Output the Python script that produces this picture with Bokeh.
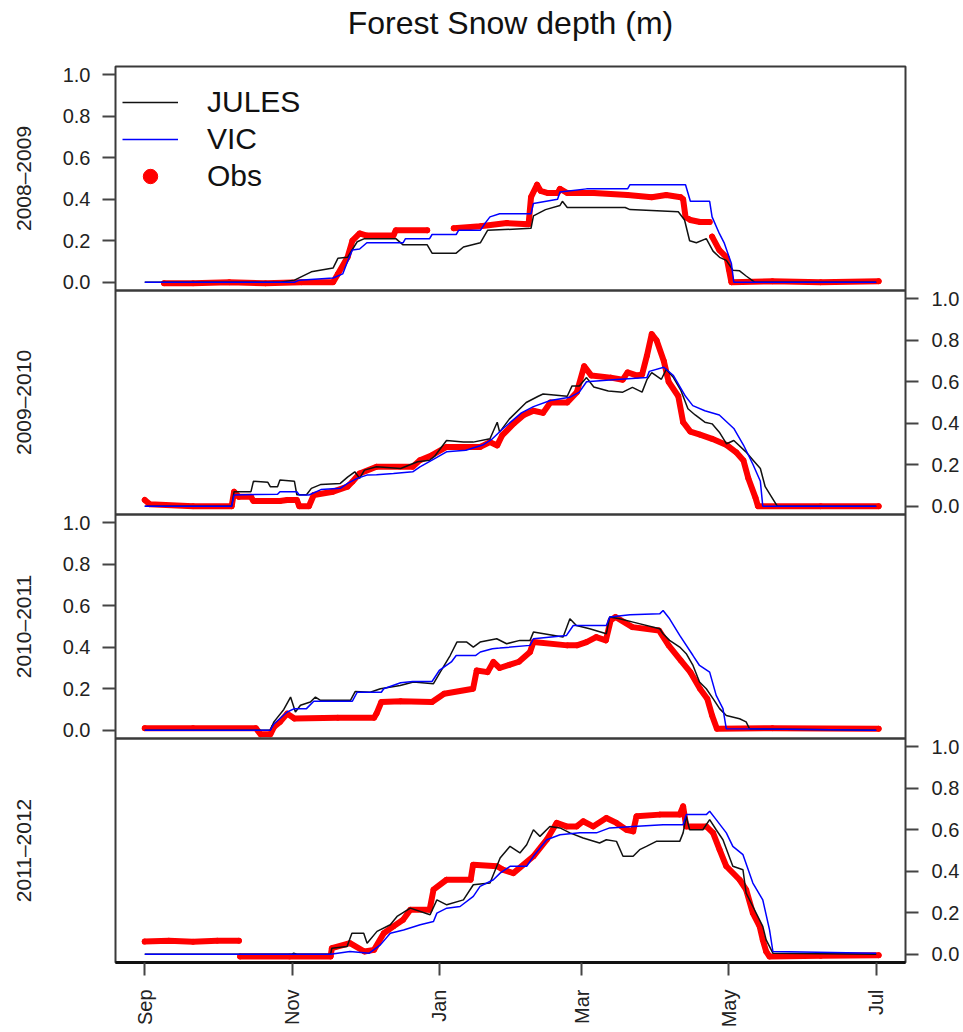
import math
import json
import numpy as np
from bokeh.plotting import figure
from bokeh.models import (LinearAxis, FixedTicker, Range1d, Legend, LegendItem,
                          CustomJSTickFormatter, ColumnDataSource, Span)
from bokeh.embed import file_html
from bokeh.resources import INLINE

NaN = float("nan")

# ---------------- data (days since 1 Sep, snow depth in m) ----------------
title_text = "Forest Snow depth (m)"
season_labels = ["2008\u20132009", "2009\u20132010", "2010\u20132011", "2011\u20132012"]
month_ticks = [0, 61, 122, 181, 242, 303]
month_labels = ["Sep", "Nov", "Jan", "Mar", "May", "Jul"]
depth_ticks = [0.0, 0.2, 0.4, 0.6, 0.8, 1.0]

# 2008-2009
jules_0809_day = [0, 56, 62, 69, 78, 80, 84, 88, 91, 104, 107, 117, 119, 129, 132, 139, 142, 160, 161, 166,
                  172, 173, 175, 199, 201, 221, 223.6, 225.7, 228.5, 232.6, 235.4, 238.1, 240.9, 243.6, 246.4, 249.1, 252.6, 303]
jules_0809_depth = [0, 0, 0.01, 0.05, 0.068, 0.115, 0.12, 0.195, 0.21, 0.21, 0.18, 0.18, 0.14, 0.14, 0.17, 0.19, 0.25, 0.26, 0.32, 0.35,
                    0.37, 0.39, 0.36, 0.36, 0.35, 0.34, 0.30, 0.20, 0.19, 0.21, 0.15, 0.12, 0.105, 0.058, 0.055, 0.03, 0.0, 0.0]
vic_0809_day = [0, 62, 64, 78, 82, 84, 86, 89, 92, 107, 108, 118, 119, 129, 130, 139, 141, 143, 147, 160,
                161, 171, 172, 183, 200, 201, 224, 226, 234, 235, 238, 240, 243, 244, 303]
vic_0809_depth = [0, 0, 0.01, 0.02, 0.04, 0.10, 0.155, 0.16, 0.19, 0.19, 0.21, 0.21, 0.23, 0.23, 0.25, 0.25, 0.285, 0.315, 0.33, 0.33,
                  0.38, 0.40, 0.435, 0.45, 0.45, 0.47, 0.47, 0.39, 0.39, 0.315, 0.235, 0.19, 0.09, 0.0, 0.0]
obs_0809_day = [8, 20, 35, 50, 65, 78, 80, 84, 86, 89, 92, 103, 104, 117, NaN, 128, 139, 150, 159, 160,
                162.5, 164, 167, 171, 172, 175, 186, 200, 210, 216, 222, 223, 224, 226, 230, 234, NaN, 235, 238, 241,
                242, 243, 260, 280, 304]
obs_0809_depth = [-0.005, -0.005, 0.0, -0.005, 0.0, 0.0, 0.04, 0.12, 0.20, 0.235, 0.225, 0.225, 0.25, 0.25, NaN, 0.26, 0.27, 0.285, 0.28, 0.41,
                  0.47, 0.44, 0.43, 0.43, 0.45, 0.43, 0.43, 0.42, 0.41, 0.42, 0.41, 0.40, 0.315, 0.30, 0.29, 0.29, NaN, 0.22, 0.155, 0.12,
                  0.06, 0.0, 0.005, 0.0, 0.005]

# 2009-2010
jules_0910_day = [0, 36, 37, 44, 45, 51, 52, 55, 56, 62, 63, 67, 69, 73, 81, 84, 87, 89, 91, 96,
                  106, 113, 118, 120, 125, 132, 136, 143, 146, 147, 151, 158, 163, 165, 175, 177, 180, 183, 186, 192,
                  198, 202, 206, 208, 210, 214, 216, 219, 222, 225, 228, 232, 235, 238, 241, 244, 249, 252, 255, 257,
                  260, 262, 303]
jules_0910_depth = [0, 0, 0.07, 0.07, 0.12, 0.115, 0.094, 0.094, 0.126, 0.12, 0.055, 0.055, 0.086, 0.105, 0.11, 0.14, 0.166, 0.134, 0.174, 0.19,
                    0.182, 0.214, 0.222, 0.24, 0.317, 0.309, 0.309, 0.325, 0.405, 0.357, 0.42, 0.50, 0.53, 0.541, 0.53, 0.58, 0.58, 0.62, 0.575, 0.555,
                    0.55, 0.573, 0.55, 0.61, 0.644, 0.612, 0.66, 0.62, 0.56, 0.47, 0.44, 0.405, 0.397, 0.357, 0.301, 0.317, 0.262, 0.222, 0.182, 0.094,
                    0.038, 0.0, 0.0]
vic_0910_day = [0, 36, 37, 55, 56, 63, 64, 68, 73, 81, 84, 88, 92, 96, 103, 111, 114, 119, 125, 133,
                140, 144, 148, 153, 156, 161, 168, 176, 180, 183, 194, 208, 209, 215, 219, 224, 227, 232, 238, 244,
                248, 252, 255, 256, 303]
vic_0910_depth = [0, 0, 0.054, 0.058, 0.07, 0.07, 0.054, 0.054, 0.08, 0.086, 0.11, 0.134, 0.15, 0.152, 0.158, 0.166, 0.19, 0.222, 0.262, 0.27,
                  0.295, 0.325, 0.37, 0.42, 0.45, 0.48, 0.51, 0.525, 0.55, 0.60, 0.61, 0.62, 0.65, 0.67, 0.63, 0.53, 0.485, 0.46, 0.44, 0.375,
                  0.295, 0.20, 0.12, 0.0, 0.0]
obs_0910_day = [0, 2, 20, 36, 37, 39, 44, 45, 56, 59, 63, 64, 68, 70, 78, 84, 86, 89, 96, 111,
                114, 119, 125, 139, 143, 146, 148, 153, 157, 161, 165, 168, 175, 179, 182, 185, 193, 198, 200, 204,
                206, 208, 210, 212, 215, 217, 221, 223, 226, 230, 235, 241, 245, 248, 250, 253, 254, 280, 304]
obs_0910_depth = [0.03, 0.01, 0.0, 0.0, 0.07, 0.045, 0.045, 0.025, 0.025, 0.03, 0.03, 0.0, 0.0, 0.054, 0.07, 0.094, 0.118, 0.158, 0.19, 0.19,
                  0.222, 0.246, 0.286, 0.286, 0.309, 0.293, 0.341, 0.40, 0.44, 0.46, 0.45, 0.50, 0.50, 0.55, 0.675, 0.63, 0.62, 0.61, 0.645, 0.63,
                  0.635, 0.725, 0.83, 0.80, 0.70, 0.60, 0.53, 0.405, 0.36, 0.345, 0.325, 0.295, 0.26, 0.22, 0.135, 0.04, 0.0, 0.0, 0.0]

# 2010-2011
jules_1011_day = [0, 52, 53.5, 57.6, 60.4, 62.4, 64.5, 68.6, 70.7, 72.8, 85.2, 87.2, 93.4, 97.6, 105.8, 111.3, 119.6, 122.4, 126.5, 129.3,
                  133.4, 136.1, 138.9, 145.8, 149.9, 155.4, 159.6, 161, 173.3, 176.1, 178.8, 184.3, 191.2, 192.6, 196.7, 202.3, 213.3, 214.7, 217.4, 221.6,
                  224.3, 227.1, 229.8, 232.6, 235.4, 238.1, 240.9, 246.4, 249.1, 250.5, 303]
jules_1011_depth = [0, 0, 0.04, 0.10, 0.16, 0.088, 0.12, 0.136, 0.16, 0.144, 0.144, 0.187, 0.183, 0.2, 0.216, 0.232, 0.224, 0.28, 0.36, 0.425,
                    0.425, 0.401, 0.425, 0.441, 0.417, 0.433, 0.433, 0.473, 0.449, 0.537, 0.505, 0.489, 0.465, 0.546, 0.537, 0.521, 0.489, 0.465, 0.433, 0.401,
                    0.369, 0.312, 0.232, 0.2, 0.152, 0.104, 0.071, 0.055, 0.04, 0.007, 0.0]
vic_1011_day = [0, 52, 53.5, 59, 62, 67, 70, 86, 88, 98, 99, 106, 111, 119, 122, 127, 129, 137, 139, 144,
                147, 159.6, 161, 174.7, 177.5, 191.2, 192.6, 201, 213.3, 214.7, 217.4, 221.6, 227.1, 229.8, 234, 236.7, 239.5, 240.9, 303]
vic_1011_depth = [0, 0, 0.03, 0.088, 0.104, 0.104, 0.14, 0.14, 0.183, 0.183, 0.2, 0.229, 0.235, 0.235, 0.288, 0.329, 0.36, 0.36, 0.377, 0.393,
                  0.396, 0.409, 0.441, 0.457, 0.505, 0.505, 0.546, 0.557, 0.561, 0.577, 0.537, 0.457, 0.36, 0.312, 0.28, 0.168, 0.104, 0.007, 0.0]
obs_1011_day = [0, 20, 46, 48, 52, 53.5, 56, 59, 62, 80, 95, 96, 98, 106, 119, 124, 136, 137.5, 142, 144.4,
                147, 151, 155, 159.6, 161, 175, 179, 183, 187, 191, 193, 195, 202, 213, 217, 222, 226, 230, 233, 235,
                237, 260, 304]
obs_1011_depth = [0.01, 0.01, 0.01, -0.02, -0.02, 0.015, 0.04, 0.08, 0.056, 0.06, 0.06, 0.08, 0.136, 0.14, 0.136, 0.176, 0.2, 0.288, 0.28, 0.329,
                  0.30, 0.315, 0.33, 0.377, 0.425, 0.409, 0.409, 0.425, 0.449, 0.433, 0.53, 0.546, 0.497, 0.481, 0.409, 0.337, 0.28, 0.2, 0.152, 0.071,
                  0.007, 0.01, 0.007]

# 2011-2012
jules_1112_day = [0, 61, 61.7, 63, 77, 77.5, 83.8, 85.8, 90.7, 92.1, 96.2, 101.7, 104.5, 110, 118.2, 121, 125.1, 132, 136.1, 143,
                  147.2, 151.3, 155.4, 158.2, 161, 163.7, 167.8, 172, 176.1, 181.6, 188.4, 191.2, 195.4, 198.1, 202.3, 205, 207.8, 211.9, 218.8, 221.6,
                  223, 224.3, 225.7, 231.2, 234, 236.7, 239.5, 243.6, 247.8, 249.1, 251.9, 256, 257.4, 260.2, 303]
jules_1112_depth = [0, 0, 0.005, 0, 0, 0.029, 0.037, 0.101, 0.101, 0.053, 0.11, 0.142, 0.182, 0.222, 0.19, 0.262, 0.238, 0.262, 0.335, 0.343,
                    0.464, 0.52, 0.488, 0.528, 0.6, 0.568, 0.616, 0.609, 0.585, 0.56, 0.536, 0.552, 0.544, 0.472, 0.472, 0.504, 0.52, 0.544, 0.544, 0.544,
                    0.585, 0.665, 0.6, 0.6, 0.649, 0.6, 0.552, 0.424, 0.407, 0.295, 0.23, 0.134, 0.069, 0.005, 0.0]
vic_1112_day = [0, 77, 85, 93, 97.6, 101.7, 107.2, 114.1, 119.6, 121, 125.1, 130.6, 136.1, 138.9, 144.4, 147.2, 151.3, 158.2, 161, 166.5,
                172, 180.2, 187.1, 192.6, 202.3, 214.7, 223, 224.3, 232.6, 234, 236.7, 240.9, 243.6, 247.8, 251.9, 256, 258.8, 260.2, 303]
vic_1112_depth = [0, 0, 0.013, 0.005, 0.045, 0.101, 0.117, 0.142, 0.158, 0.198, 0.222, 0.23, 0.279, 0.327, 0.359, 0.391, 0.424, 0.424, 0.472, 0.552,
                  0.576, 0.585, 0.585, 0.609, 0.616, 0.624, 0.624, 0.673, 0.673, 0.689, 0.649, 0.585, 0.52, 0.48, 0.343, 0.262, 0.117, 0.013, 0.005]
obs_1112_day = [0, 10, 20, 30, 39, NaN, 39.5, 60, 77, 77.5, 85, 91, 95, 99, 103, 107, 110, 118, 119.6, 125,
                135, 136, 146, 148.5, 152.7, 161, 166.5, 170.6, 174.7, 178.9, 181.6, 185.7, 191.2, 195.4, 199.5, 202.3, 203.7, 213.3, 221.6, 223,
                224.3, 232.6, 235.4, 238.1, 240.9, 246.4, 249.1, 251.9, 254.7, 256, 257.4, 258.8, 280, 304]
obs_1112_depth = [0.061, 0.065, 0.06, 0.065, 0.065, NaN, -0.011, -0.011, -0.011, 0.029, 0.053, 0.013, 0.021, 0.101, 0.134, 0.166, 0.214, 0.214, 0.311, 0.359,
                  0.359, 0.431, 0.424, 0.407, 0.391, 0.472, 0.552, 0.633, 0.616, 0.616, 0.641, 0.616, 0.657, 0.633, 0.6, 0.592, 0.665, 0.673, 0.673, 0.713,
                  0.616, 0.616, 0.585, 0.504, 0.424, 0.359, 0.311, 0.198, 0.134, 0.069, 0.013, -0.011, -0.008, -0.005]

panels = [
    (jules_0809_day, jules_0809_depth, vic_0809_day, vic_0809_depth, obs_0809_day, obs_0809_depth),
    (jules_0910_day, jules_0910_depth, vic_0910_day, vic_0910_depth, obs_0910_day, obs_0910_depth),
    (jules_1011_day, jules_1011_depth, vic_1011_day, vic_1011_depth, obs_1011_day, obs_1011_depth),
    (jules_1112_day, jules_1112_depth, vic_1112_day, vic_1112_depth, obs_1112_day, obs_1112_depth),
]

# ---------------- layout / style ----------------
FONT = "Liberation Sans"
LEFT, RIGHT, TOP, BOTTOM = 115, 58, 66, 68
FRAME_W, PANEL_H = 790, 224
N = len(panels)
FRAME_H = PANEL_H * N
AXC = "#3a3a3a"
TXT = "#222222"

X0, X1 = -12.12, 315.12          # R-style 4 % padding around 0..303 days
Y0, Y1 = -0.04, 1.04              # R-style 4 % padding around 0..1 m
SPAN = Y1 - Y0


def panel_range(k):
    end = Y1 + k * SPAN
    return Range1d(end - N * SPAN, end)


names = ["default"] + [f"p{k}" for k in range(1, N)]

p = figure(width=LEFT + FRAME_W + RIGHT, height=TOP + FRAME_H + BOTTOM,
           x_range=Range1d(X0, X1), y_range=panel_range(0),
           x_axis_location=None, y_axis_location=None,
           toolbar_location=None, output_backend="svg",
           min_border_left=LEFT, min_border_right=RIGHT,
           min_border_top=TOP, min_border_bottom=BOTTOM)
p.extra_y_ranges = {names[k]: panel_range(k) for k in range(1, N)}
p.grid.visible = False
p.outline_line_color = AXC
p.outline_line_width = 2
p.background_fill_color = "white"
p.border_fill_color = "white"

legend_renderers = None
for k, (jd, jv, vd, vv, od, ov) in enumerate(panels):
    rn = names[k]
    obs_src = ColumnDataSource(dict(x=np.array(od, dtype=float), y=np.array(ov, dtype=float)))
    p.line("x", "y", source=obs_src, y_range_name=rn, line_color="#ff0000", line_width=6,
           line_join="round", line_cap="round")
    r_obs = p.scatter("x", "y", source=obs_src, y_range_name=rn, marker="circle", size=5,
                      fill_color="#ff0000", line_color="#ff0000")
    r_j = p.line(np.array(jd, dtype=float), np.array(jv, dtype=float), y_range_name=rn,
                 line_color="#111111", line_width=1.5)
    r_v = p.line(np.array(vd, dtype=float), np.array(vv, dtype=float), y_range_name=rn,
                 line_color="#0000ff", line_width=1.5)
    if k == 0:
        legend_renderers = (r_j, r_v, r_obs)
    if k < N - 1:
        p.add_layout(Span(location=Y0, dimension="width", y_range_name=rn,
                          line_color=AXC, line_width=2.5))


def style_axis(ax, size="20px"):
    ax.axis_line_color = None
    ax.major_tick_line_color = "#444444"
    ax.major_tick_line_width = 2
    ax.major_tick_out = 13
    ax.major_tick_in = 0
    ax.minor_tick_line_color = None
    ax.major_label_text_font = FONT
    ax.major_label_text_font_size = size
    ax.major_label_text_color = TXT


def depth_axis(panel_ids):
    # ticks of several panels expressed in the default (top panel) range
    ticks, offs = [], []
    for k in panel_ids:
        offs.append(round(k * SPAN, 6))
        ticks += [round(t - k * SPAN, 6) for t in depth_ticks]
    code = ("const offs = %s; const span = %s;"
            "let best = 0;"
            "for (const o of offs) { if (tick + o > -span/2 && tick + o < 1 + span/2) { best = o; } }"
            "let v = Math.round((tick + best) * 10) / 10;"
            "if (v === 0) { v = 0; }"
            "return v.toFixed(1);") % (offs, SPAN)
    ax = LinearAxis(ticker=FixedTicker(ticks=ticks), formatter=CustomJSTickFormatter(code=code))
    style_axis(ax)
    return ax


# left depth axis (panels 1 and 3), right depth axis (panels 2 and 4)
left_ax = depth_axis([0, 2])
left_ax.major_label_standoff = 12
p.add_layout(left_ax, "left")

right_ax = depth_axis([1, 3])
right_ax.major_label_standoff = 13
p.add_layout(right_ax, "right")

# season labels: one vertical label centred on each panel, outside the depth axis
centres = [round((Y0 + Y1) / 2 - k * SPAN, 6) for k in range(N)]
season_code = ("const labels = %s; const k = Math.round((%s - tick) / %s);"
               "return labels[k];") % (json.dumps(season_labels), (Y0 + Y1) / 2, SPAN)
season_ax = LinearAxis(ticker=FixedTicker(ticks=centres),
                       formatter=CustomJSTickFormatter(code=season_code),
                       major_label_orientation="parallel")
style_axis(season_ax, "21px")
season_ax.major_tick_line_color = None
season_ax.major_tick_out = 0
season_ax.major_label_standoff = 25
p.add_layout(season_ax, "left")

# month axis
xax = LinearAxis(ticker=FixedTicker(ticks=month_ticks),
                 major_label_overrides={t: l for t, l in zip(month_ticks, month_labels)},
                 major_label_orientation=math.pi / 2)
style_axis(xax)
xax.axis_line_color = "#111111"
xax.axis_line_width = 3
xax.major_label_standoff = 14
p.add_layout(xax, "below")

# chart title, centred over the frame
title_ax = LinearAxis(ticker=FixedTicker(ticks=[(X0 + X1) / 2]),
                      formatter=CustomJSTickFormatter(code="return %s;" % json.dumps(title_text)))
style_axis(title_ax, "32px")
title_ax.major_tick_line_color = None
title_ax.major_tick_out = 0
title_ax.major_label_standoff = 26
title_ax.major_label_text_color = "#111111"
p.add_layout(title_ax, "above")

r_j, r_v, r_obs = legend_renderers
leg = Legend(items=[LegendItem(label="JULES", renderers=[r_j]),
                    LegendItem(label="VIC", renderers=[r_v]),
                    LegendItem(label="Obs", renderers=[r_obs])],
             location=(7, FRAME_H - 18 - 110), orientation="vertical",
             label_text_font=FONT, label_text_font_size="30px", label_text_color="#111111",
             glyph_width=56, glyph_height=36, label_height=36, label_standoff=29,
             spacing=1, padding=0, margin=0,
             border_line_color=None, background_fill_alpha=0)
p.add_layout(leg)

open("out.html", "w").write(file_html(p, INLINE))
